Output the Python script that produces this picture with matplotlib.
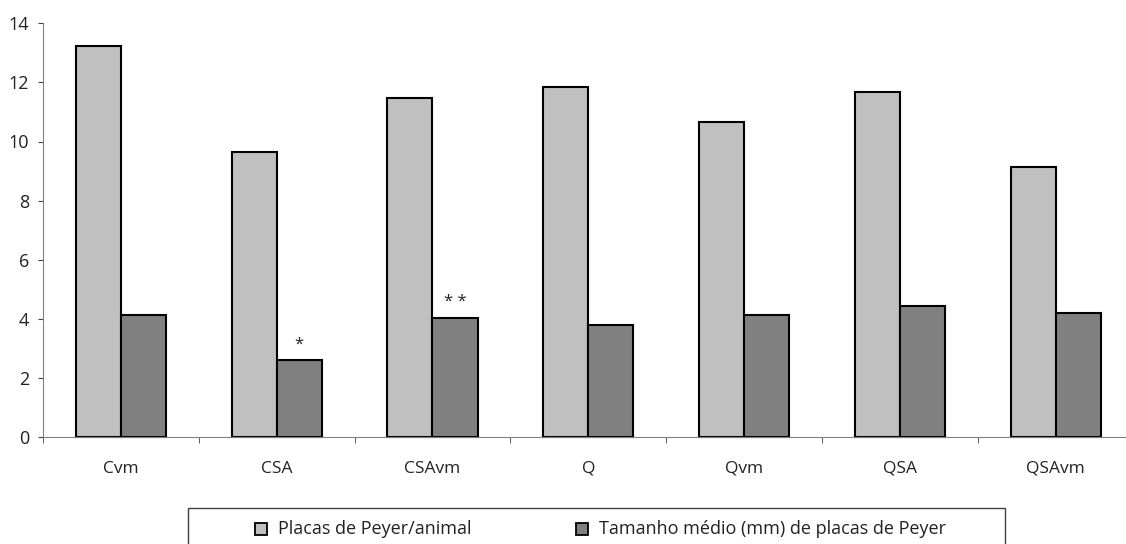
import matplotlib
matplotlib.use("Agg")
import matplotlib.pyplot as plt
import numpy as np
from matplotlib.patches import Rectangle

categories = ["Cvm", "CSA", "CSAvm", "Q", "Qvm", "QSA", "QSAvm"]
placas = [13.22, 9.64, 11.48, 11.83, 10.67, 11.66, 9.15]
tamanho = [4.12, 2.59, 4.03, 3.78, 4.14, 4.44, 4.21]
annotations = ["", "*", "* *", "", "", "", ""]
series_names = ["Placas de Peyer/animal", "Tamanho médio (mm) de placas de Peyer"]
colors = ["#c0c0c0", "#808080"]

plt.rcParams['font.family'] = ['Open Sans', 'DejaVu Sans']

W, H = 1126, 544
fig = plt.figure(figsize=(W / 100, H / 100), dpi=100)
ax = fig.add_axes([43 / W, 107 / H, 1090.6 / W, 413.7 / H])
ax.patch.set_alpha(0)

x = np.arange(len(categories))
w = 0.289
ax.bar(x - w/2, placas, w, color=colors[0], edgecolor="black", linewidth=1.5, clip_on=False)
ax.bar(x + w/2, tamanho, w, color=colors[1], edgecolor="black", linewidth=1.5, clip_on=False)

for xi, v, a in zip(x, tamanho, annotations):
    if a:
        ax.text(xi + w/2, v + 0.55, a, ha="center", va="center", fontsize=12, color="#222222")

ax.set_xlim(-0.5, len(categories) - 0.5)
ax.set_ylim(0, 14)
ax.set_yticks(range(0, 15, 2))
ax.set_xticks(x)
ax.set_xticklabels(categories)
ax.set_xticks(np.arange(-0.5, len(categories), 1.0), minor=True)
ax.tick_params(axis="x", which="major", length=0, pad=17, labelsize=12.5, labelcolor="#222222")
ax.tick_params(axis="x", which="minor", length=4.5, color="#404040")
ax.tick_params(axis="y", length=3.6, pad=6.5, color="#404040", labelsize=13, labelcolor="#222222")
for s in ["top", "right"]:
    ax.spines[s].set_visible(False)
for s in ["left", "bottom"]:
    ax.spines[s].set_color("#808080")

# legend box drawn manually in pixel-based figure coordinates
def px(xp, yp_top):
    return xp / W, (H - yp_top) / H

fx, fy = px(188, 508)
fig.add_artist(Rectangle((fx, fy - 60 / H), (1005 - 188) / W, 60 / H, transform=fig.transFigure,
                         facecolor="white", edgecolor="#404040", linewidth=1.0))
marker_x = [255, 576]
text_x = [278, 599]
for mx, tx, c, name in zip(marker_x, text_x, colors, series_names):
    bx, by = px(mx, 535)
    fig.add_artist(Rectangle((bx, by), 12 / W, 12 / H, transform=fig.transFigure,
                             facecolor=c, edgecolor="black", linewidth=1.3))
    tx_, ty_ = px(tx, 529)
    fig.text(tx_, ty_, name, ha="left", va="center", fontsize=13, color="#222222")

fig.savefig("out.png", dpi=100)
